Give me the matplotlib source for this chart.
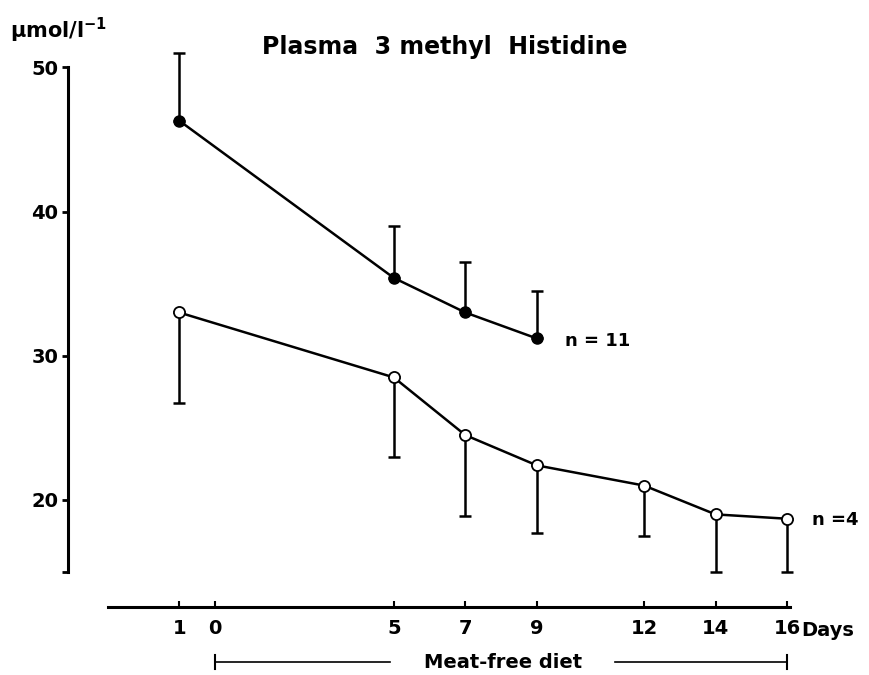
import matplotlib
matplotlib.use('Agg')
import matplotlib.pyplot as plt
import matplotlib.transforms as mtransforms

# day positions (pre-diet day "1" sits one day before diet day 0)
tick_pos = [-1, 0, 5, 7, 9, 12, 14, 16]
tick_labels = ['1', '0', '5', '7', '9', '12', '14', '16']

# n = 11 group (filled), error bars upward
days_a = [-1, 5, 7, 9]
mean_a = [46.3, 35.4, 33.0, 31.2]
err_a = [4.7, 3.6, 3.5, 3.3]

# n = 4 group (open), error bars downward
days_b = [-1, 5, 7, 9, 12, 14, 16]
mean_b = [33.0, 28.5, 24.5, 22.4, 21.0, 19.0, 18.7]
err_b = [6.3, 5.5, 5.6, 4.7, 3.5, 4.0, 3.7]

plt.rcParams['font.family'] = ['DejaVu Sans']
plt.rcParams['font.weight'] = 'bold'

fig = plt.figure(figsize=(8.7, 6.75), dpi=100)
ax = fig.add_axes([68 / 870, 1 - 607 / 675, (790 - 68) / 870, (607 - 50) / 675])

ax.errorbar(days_a, mean_a, yerr=[[0] * len(err_a), err_a], fmt='none',
            ecolor='black', elinewidth=1.8, capsize=4, capthick=1.8)
ax.plot(days_a, mean_a, color='black', lw=1.8, marker='o', ms=8,
        mfc='black', mec='black', zorder=3)

eb = ax.errorbar(days_b, mean_b, yerr=[err_b, [0] * len(err_b)], fmt='none',
                 ecolor='black', elinewidth=1.8, capsize=4, capthick=1.8)
for art in eb.get_children():
    art.set_clip_on(False)
ax.plot(days_b, mean_b, color='black', lw=1.8, marker='o', ms=8,
        mfc='white', mec='black', mew=1.3, zorder=3, clip_on=False)

ax.set_xlim(-4.11, 16.08)
ax.set_ylim(12.58, 51.2)

for s in ['top', 'right']:
    ax.spines[s].set_visible(False)
ax.spines['left'].set_bounds(15, 50)
ax.spines['left'].set_linewidth(2.2)
ax.spines['bottom'].set_bounds(-3.0, 16.08)
ax.spines['bottom'].set_linewidth(2.2)

ax.set_xticks(tick_pos)
ax.set_xticklabels(tick_labels)
ax.set_yticks([15, 20, 30, 40, 50])
ax.set_yticklabels(['', '20', '30', '40', '50'])
ax.tick_params(axis='x', direction='in', length=4, width=1.5, pad=9, labelsize=14)
ax.tick_params(axis='y', direction='out', length=4, width=2, pad=3, labelsize=14)
for lab in ax.get_xticklabels() + ax.get_yticklabels():
    lab.set_fontweight('bold')

trans = mtransforms.blended_transform_factory(ax.transData, ax.transAxes)
ax.text(16.4, -0.042, 'Days', transform=trans,
        ha='left', va='center', fontsize=14, fontweight='bold', clip_on=False)

ax.text(9.8, 31.0, 'n = 11', ha='left', va='center', fontsize=13, fontweight='bold')
ax.text(16.7, 18.6, 'n =4', ha='left', va='center', fontsize=13, fontweight='bold')

fig.text(10 / 870, 1 - 30 / 675, 'µmol/l$^{\\mathbf{-1}}$', ha='left', va='center',
         fontsize=15, fontweight='bold')
fig.text(445 / 870, 1 - 47 / 675, 'Plasma  3 methyl  Histidine', ha='center', va='center',
         fontsize=17, fontweight='bold')

# meat-free diet bracket
yb = -0.099
ax.plot([0, 4.9], [yb, yb], color='black', lw=1.2, transform=trans, clip_on=False)
ax.plot([11.2, 16], [yb, yb], color='black', lw=1.2, transform=trans, clip_on=False)
ax.plot([0, 0], [yb - 0.012, yb + 0.012], color='black', lw=1.5, transform=trans, clip_on=False)
ax.plot([16, 16], [yb - 0.012, yb + 0.012], color='black', lw=1.5, transform=trans, clip_on=False)
ax.text(8.05, yb, 'Meat-free diet', transform=trans, ha='center', va='center',
        fontsize=14, fontweight='bold', clip_on=False)

fig.savefig('out.png', dpi=100)
